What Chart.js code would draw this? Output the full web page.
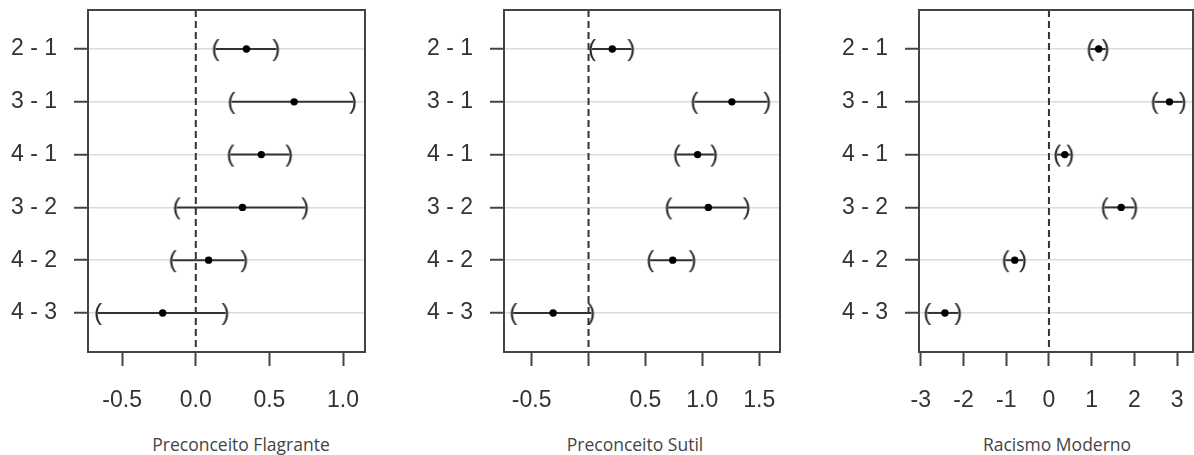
<!DOCTYPE html>
<html>
<head>
<meta charset="utf-8">
<script src="https://cdn.jsdelivr.net/npm/chart.js@4"></script>
<style>
  body { margin: 0; background: #fff; overflow: hidden; width: 1194px; height: 455px; position: relative; }
  .panel { position: absolute; top: 0; }
  .caption { position: absolute; top: 433px; width: 300px; text-align: center; font-family: "Open Sans", sans-serif; font-size: 17.5px; line-height: 22px; color: #444; }
</style>
</head>
<body>
<div class="panel" style="left:0px"><canvas id="c1" width="370" height="412"></canvas></div>
<div class="panel" style="left:416px"><canvas id="c2" width="369" height="412"></canvas></div>
<div class="panel" style="left:831px"><canvas id="c3" width="367" height="412"></canvas></div>
<div class="caption" style="left:91px">Preconceito Flagrante</div>
<div class="caption" style="left:485px">Preconceito Sutil</div>
<div class="caption" style="left:907px">Racismo Moderno</div>
<script>
// comparações (de cima para baixo)
const comparisons = ['2 - 1', '3 - 1', '4 - 1', '3 - 2', '4 - 2', '4 - 3'];

// Preconceito Flagrante
const flagranteDiff = [0.344, 0.668, 0.445, 0.317, 0.087, -0.225];
const flagranteLwr  = [0.134, 0.242, 0.235, -0.130, -0.157, -0.664];
const flagranteUpr  = [0.547, 1.068, 0.635, 0.743, 0.330, 0.202];
const flagranteTicks = [-0.5, 0.0, 0.5, 1.0];

// Preconceito Sutil
const sutilDiff = [0.209, 1.260, 0.959, 1.053, 0.740, -0.311];
const sutilLwr  = [0.031, 0.930, 0.775, 0.702, 0.542, -0.661];
const sutilUpr  = [0.376, 1.572, 1.105, 1.391, 0.915, 0.025];
const sutilTicks = [-0.5, 0.0, 0.5, 1.0, 1.5];

// Racismo Moderno
const racismoDiff = [1.163, 2.820, 0.370, 1.690, -0.800, -2.433];
const racismoLwr  = [0.969, 2.470, 0.190, 1.300, -1.016, -2.846];
const racismoUpr  = [1.326, 3.130, 0.500, 2.000, -0.605, -2.120];
const racismoTicks = [-3, -2, -1, 0, 1, 2, 3];

const FONT = '"Liberation Sans", Arial, sans-serif';
const n = comparisons.length;
const yMin = 0.26, yMax = n + 0.74;

function parenImage(ch) {
    const c = document.createElement('canvas');
    c.width = 14; c.height = 32;
    const g = c.getContext('2d');
    g.fillStyle = '#222';
    g.font = '24px ' + FONT;
    g.textAlign = 'center';
    g.textBaseline = 'middle';
    g.fillText(ch, 7, 16);
    return c;
}
const openParen = parenImage('(');
const closeParen = parenImage(')');

const boxPlugin = {
    id: 'box',
    afterDatasetsDraw(chart) {
        const a = chart.chartArea, ctx = chart.ctx;
        ctx.save();
        ctx.strokeStyle = '#444';
        ctx.lineWidth = 2;
        ctx.strokeRect(a.left, a.top, a.right - a.left, a.bottom - a.top);
        ctx.restore();
    }
};

function makePanel(id, diff, lwr, upr, xMin, xMax, xTicks, fmt) {
    const rowY = i => n - i;
    const datasets = [];
    datasets.push({
        data: diff.map((v, i) => ({ x: v, y: rowY(i) })),
        pointRadius: 3.7, pointBackgroundColor: '#000', pointBorderWidth: 0, showLine: false, order: 0
    });
    datasets.push({
        data: lwr.map((v, i) => ({ x: v, y: rowY(i) })),
        pointStyle: openParen, pointRadius: 3, showLine: false, order: 1
    });
    datasets.push({
        data: upr.map((v, i) => ({ x: v, y: rowY(i) })),
        pointStyle: closeParen, pointRadius: 3, showLine: false, order: 1
    });
    lwr.forEach((v, i) => {
        datasets.push({
            data: [{ x: v, y: rowY(i) }, { x: upr[i], y: rowY(i) }],
            showLine: true, borderColor: '#333', borderWidth: 2, pointRadius: 0, order: 2
        });
    });
    datasets.push({
        data: [{ x: 0, y: yMax }, { x: 0, y: yMin }],
        showLine: true, borderColor: '#333', borderWidth: 2, borderDash: [7, 4], pointRadius: 0, order: 3
    });

    new Chart(document.getElementById(id).getContext('2d'), {
        type: 'scatter',
        data: { datasets: datasets },
        plugins: [boxPlugin],
        options: {
            responsive: false,
            devicePixelRatio: 1,
            animation: false,
            layout: { padding: { top: 10, right: 4, left: 0, bottom: 0 } },
            plugins: { legend: { display: false }, tooltip: { enabled: false } },
            scales: {
                x: {
                    type: 'linear', min: xMin, max: xMax,
                    afterBuildTicks: s => { s.ticks = xTicks.map(v => ({ value: v })); },
                    afterFit: s => { s.height = 60; s.paddingLeft = 0; s.paddingRight = 0; },
                    border: { display: false },
                    grid: { drawOnChartArea: false, tickLength: 14, tickColor: '#444', tickWidth: 2 },
                    ticks: { font: { family: FONT, size: 23 }, color: '#333', padding: 21, maxRotation: 0, autoSkip: false, callback: fmt }
                },
                y: {
                    type: 'linear', min: yMin, max: yMax,
                    afterBuildTicks: s => { s.ticks = comparisons.map((c, i) => ({ value: rowY(i) })); },
                    afterFit: s => { s.width = 88; s.paddingTop = 0; s.paddingBottom = 0; },
                    border: { display: false },
                    grid: { color: '#dcdcdc', lineWidth: 1.5, tickLength: 14, tickColor: '#444', tickWidth: 2 },
                    ticks: { font: { family: FONT, size: 23 }, color: '#333', padding: 17, autoSkip: false, callback: v => comparisons[n - v] }
                }
            }
        }
    });
}

makePanel('c1', flagranteDiff, flagranteLwr, flagranteUpr, -0.732, 1.149, flagranteTicks, v => v.toFixed(1));
makePanel('c2', sutilDiff, sutilLwr, sutilUpr, -0.743, 1.683, sutilTicks, v => (v === 0 ? '' : v.toFixed(1)));
makePanel('c3', racismoDiff, racismoLwr, racismoUpr, -3.04, 3.37, racismoTicks, v => String(v));
</script>
</body>
</html>
